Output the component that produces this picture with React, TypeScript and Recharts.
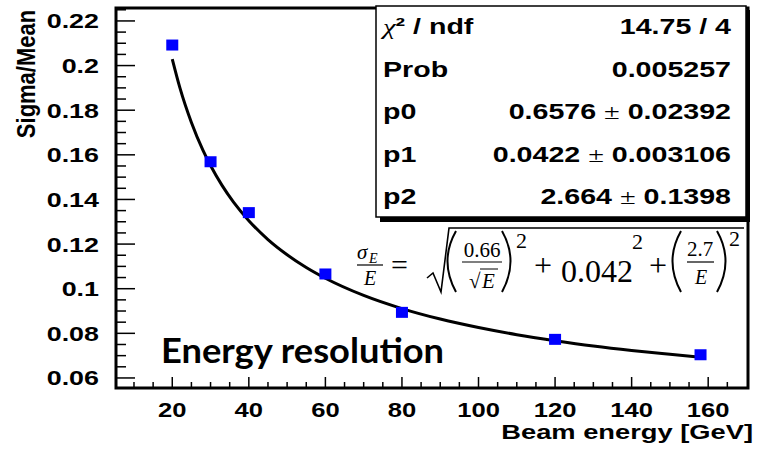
import React from 'react';
import { ComposedChart, Line, Scatter, XAxis, YAxis, ReferenceArea } from 'recharts';

// measured points (beam energy in GeV, sigma/mean)
const beamEnergy = [20, 30, 40, 60, 80, 120, 158];
const sigmaMean = [0.2092, 0.1569, 0.1341, 0.1066, 0.0894, 0.0773, 0.0704];

// fitted curve
const fitEnergy = [20, 22, 25, 28, 30, 33, 36, 40, 45, 50, 55, 60, 70, 80, 90, 100, 110, 120, 130, 140, 150, 158];
const fitSigma = [0.2029, 0.19, 0.1745, 0.1621, 0.1552, 0.1463, 0.1388, 0.1305, 0.122, 0.1152, 0.1095, 0.1047, 0.097, 0.0911, 0.0864, 0.0826, 0.0794, 0.0767, 0.0743, 0.0723, 0.0706, 0.0693];

const xMajorTicks = [20, 40, 60, 80, 100, 120, 140, 160];
const xMinorTicks = [10, 15, 25, 30, 35, 45, 50, 55, 65, 70, 75, 85, 90, 95, 105, 110, 115, 125, 130, 135, 145, 150, 155, 165];
const yMajorTicks = [0.06, 0.08, 0.1, 0.12, 0.14, 0.16, 0.18, 0.2, 0.22];
const yMinorTicks = [0.065, 0.07, 0.075, 0.085, 0.09, 0.095, 0.105, 0.11, 0.115, 0.125, 0.13, 0.135, 0.145, 0.15, 0.155, 0.165, 0.17, 0.175, 0.185, 0.19, 0.195, 0.205, 0.21, 0.215, 0.225];

const xDomain: [number, number] = [5.3, 170.4];
const yDomain: [number, number] = [0.0555, 0.2258];

const statLabels = ['χ²', 'Prob', 'p0', 'p1', 'p2'];
const statValues = ['14.75 / 4', '0.005257', '0.6576 ± 0.02392', '0.0422 ± 0.003106', '2.664 ± 0.1398'];

const points = beamEnergy.map((e, i) => ({ energy: e, sigma: sigmaMean[i] }));
const curve = fitEnergy.map((e, i) => ({ energy: e, sigma: fitSigma[i] }));

const SANS = "'Liberation Sans', Arial, sans-serif";
const SERIF = "'Liberation Serif', 'DejaVu Serif', serif";
const STRETCH = 1.28;

const YTick = (props: any) => {
    const { x, y, payload } = props;
    const major = yMajorTicks.includes(payload.value);
    return (
        <g>
            <line x1={x} x2={x + (major ? 19 : 10)} y1={y} y2={y} stroke="#000" strokeWidth={1.5} />
            {major && (
                <text transform={`translate(${x - 17},${y + 7.5}) scale(${STRETCH},1)`} textAnchor="end"
                    fontFamily={SANS} fontWeight="bold" fontSize={21} fill="#000">
                    {String(payload.value)}
                </text>
            )}
        </g>
    );
};

const XTick = (props: any) => {
    const { x, y, payload } = props;
    const major = xMajorTicks.includes(payload.value);
    return (
        <g>
            <line x1={x} x2={x} y1={y} y2={y - (major ? 11 : 6)} stroke="#000" strokeWidth={1.5} />
            {major && (
                <text transform={`translate(${x},${y + 29}) scale(${STRETCH},1)`} textAnchor="middle"
                    fontFamily={SANS} fontWeight="bold" fontSize={20} fill="#000">
                    {payload.value}
                </text>
            )}
        </g>
    );
};

const SquareMarker = (props: any) => {
    const { cx, cy } = props;
    return <rect x={cx - 6} y={cy - 5.5} width={12} height={11} fill="#0000ff" />;
};

const StatsBox = () => (
    <g>
        <rect x={380} y={10} width={370} height={212} fill="#000" />
        <rect x={376} y={6} width={370} height={211} fill="#fff" stroke="#000" strokeWidth={1.5} />
        {statLabels.map((label, i) => (
            <g key={label}>
                <text transform={`translate(383,${34 + i * 42.6}) scale(1.3,1)`} fontFamily={SANS}
                    fontWeight="bold" fontSize={22} fill="#000">
                    {i === 0 ? (
                        <>
                            <tspan fontFamily={SERIF} fontWeight="normal" fontStyle="italic">χ</tspan>
                            <tspan>² / ndf</tspan>
                        </>
                    ) : label}
                </text>
                <text transform={`translate(731,${34 + i * 42.6}) scale(1.3,1)`} textAnchor="end"
                    fontFamily={SANS} fontWeight="bold" fontSize={22} fill="#000">
                    {statValues[i].split('±').map((part, j) => (
                        <React.Fragment key={j}>
                            {j > 0 && <tspan fontFamily={SERIF} fontWeight="normal">±</tspan>}
                            <tspan>{part}</tspan>
                        </React.Fragment>
                    ))}
                </text>
            </g>
        ))}
    </g>
);

const Formula = () => (
    <g fontFamily={SERIF} fill="#000">
        {/* sigma_E / E */}
        <text x={357} y={259} fontSize={21} fontStyle="italic">σ</text>
        <text x={369} y={263} fontSize={14} fontStyle="italic">E</text>
        <line x1={357} x2={383} y1={265} y2={265} stroke="#000" strokeWidth={1.2} />
        <text x={370} y={285} fontSize={20} fontStyle="italic" textAnchor="middle">E</text>
        <text x={391} y={275} fontSize={30}>=</text>
        {/* radical */}
        <path d="M427 278 L433 273 L441 292 L449 228 L744 228" fill="none" stroke="#000" strokeWidth={1.6} />
        {/* (0.66/sqrt E)^2 */}
        <path d="M456 231 Q439 261 456 292" fill="none" stroke="#000" strokeWidth={2} />
        <text x={482} y={257} fontSize={21} textAnchor="middle">0.66</text>
        <line x1={462} x2={502} y1={262} y2={262} stroke="#000" strokeWidth={1.2} />
        <text x={469} y={288} fontSize={21}>√</text>
        <line x1={480} x2={498} y1={269} y2={269} stroke="#000" strokeWidth={1} />
        <text x={482} y={288} fontSize={21} fontStyle="italic">E</text>
        <path d="M502 231 Q519 261 502 292" fill="none" stroke="#000" strokeWidth={2} />
        <text x={516} y={248} fontSize={22}>2</text>
        <text x={534} y={276} fontSize={32}>+</text>
        <text x={561} y={282} fontSize={32}>0.042</text>
        <text x={632} y={249} fontSize={22}>2</text>
        <text x={649} y={276} fontSize={32}>+</text>
        {/* (2.7/E)^2 */}
        <path d="M681 231 Q664 261 681 292" fill="none" stroke="#000" strokeWidth={2} />
        <text x={700} y={256} fontSize={21} textAnchor="middle">2.7</text>
        <line x1={687} x2={714} y1={262} y2={262} stroke="#000" strokeWidth={1.2} />
        <text x={701} y={284} fontSize={20} fontStyle="italic" textAnchor="middle">E</text>
        <path d="M717 231 Q734 261 717 292" fill="none" stroke="#000" strokeWidth={2} />
        <text x={729} y={246} fontSize={22}>2</text>
    </g>
);

export default function App() {
    return (
        <div style={{ position: 'absolute', left: 0, top: 0, width: 759, height: 452, background: '#fff' }}>
            <ComposedChart width={759} height={452} margin={{ top: 8, right: 11, bottom: 0, left: 0 }}>
                <XAxis type="number" dataKey="energy" domain={xDomain} allowDataOverflow
                    ticks={[...xMajorTicks, ...xMinorTicks].sort((a, b) => a - b)} interval={0}
                    tickSize={0} tickMargin={0} axisLine={false} tick={<XTick />} height={64} />
                <YAxis type="number" dataKey="sigma" domain={yDomain} allowDataOverflow
                    ticks={[...yMajorTicks, ...yMinorTicks].sort((a, b) => a - b)} interval={0}
                    tickSize={0} tickMargin={0} axisLine={false} tick={<YTick />} width={116} />
                <Scatter data={points} dataKey="sigma" shape={<SquareMarker />} isAnimationActive={false} />
                <Line data={curve} dataKey="sigma" type="monotone" stroke="#000" strokeWidth={3}
                    dot={false} activeDot={false} isAnimationActive={false} />
                <ReferenceArea x1={xDomain[0]} x2={xDomain[1]} y1={yDomain[0]} y2={yDomain[1]}
                    fill="none" stroke="#000" strokeWidth={3} fillOpacity={0} />
            </ComposedChart>
            <svg width={759} height={452} style={{ position: 'absolute', left: 0, top: 0, pointerEvents: 'none' }}>
                <StatsBox />
                <Formula />
                <text x={161} y={363} fontFamily="Lato, 'Open Sans', sans-serif" fontWeight="bold" fontSize={35}
                    textLength={283} lengthAdjust="spacingAndGlyphs" fill="#000">Energy resolution</text>
                <text transform={`translate(753,439) scale(1.3,1)`} textAnchor="end" fontFamily={SANS}
                    fontWeight="bold" fontSize={21} fill="#000">Beam energy [GeV]</text>
                <text transform={`translate(35,74) scale(1.2,1) rotate(-90)`} textAnchor="middle" fontFamily={SANS}
                    fontWeight="bold" fontSize={22} fill="#000">Sigma/Mean</text>
            </svg>
        </div>
    );
}
